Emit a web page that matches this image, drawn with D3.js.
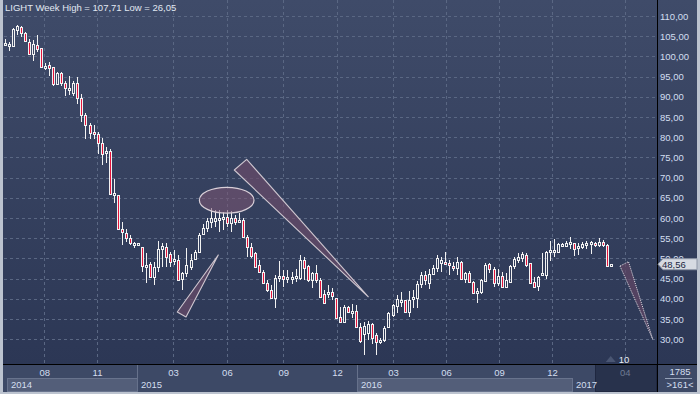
<!DOCTYPE html>
<html>
<head>
<meta charset="utf-8">
<script src="https://cdn.jsdelivr.net/npm/d3@7"></script>
<style>
  html, body { margin: 0; padding: 0; background: #bcc3cf; }
  svg { display: block; }
  text { font-family: "Liberation Sans", Arial, sans-serif; }
</style>
</head>
<body>
<div id="chart"></div>
<script>
// weekly candles, oldest first (index = week number in view)
const opens = [
  103.1, 102.7, 102.6, 106.5, 107.2, 105.7, 103.6, 100.5, 102.8, 102.0,
  97.5, 97.9, 97.3, 93.2, 95.8, 93.3, 91.9, 91.0, 93.3, 89.6,
  85.5, 83.0, 81.4, 80.8, 78.5, 76.0, 76.6, 65.6, 65.6, 57.4,
  56.2, 55.0, 53.6, 53.7, 52.7, 47.8, 48.6, 45.3, 47.8, 52.3,
  52.7, 51.1, 49.6, 49.6, 44.9, 46.5, 47.9, 49.8, 51.7, 56.0,
  57.5, 59.0, 59.3, 59.8, 59.8, 60.3, 58.8, 59.9, 59.2, 59.5,
  55.4, 52.9, 51.3, 48.4, 46.7, 43.8, 42.2, 40.3, 45.3, 45.7,
  45.0, 44.9, 45.2, 45.2, 49.6, 48.0, 44.7, 46.5, 44.7, 41.1,
  41.2, 41.7, 40.3, 35.6, 34.2, 38.0, 36.5, 37.0, 32.9, 31.4,
  31.6, 33.8, 31.1, 29.2, 29.7, 32.9, 36.0, 38.2, 39.5, 39.6,
  36.7, 40.0, 40.1, 43.6, 45.9, 44.0, 46.1, 47.7, 48.8, 49.1,
  48.9, 48.1, 47.6, 49.2, 44.8, 46.5, 44.2, 41.4, 41.6, 44.5,
  48.5, 47.3, 44.0, 45.6, 43.0, 44.2, 48.0, 49.5, 50.0, 50.8,
  48.8, 44.2, 43.2, 45.9, 46.0, 51.5, 51.5, 51.7, 53.5, 53.1,
  53.7, 53.7, 52.9, 52.9, 53.4, 53.6, 53.9, 53.3, 54.1, 53.3,
  48.3
];
const highs = [
  104.2, 103.6, 107.0, 107.71, 107.5, 106.0, 104.3, 104.1, 105.3, 102.2,
  98.4, 98.5, 97.5, 96.2, 96.1, 93.9, 95.1, 93.9, 95.0, 90.6,
  86.1, 83.6, 83.0, 81.2, 79.7, 77.6, 77.0, 69.7, 65.7, 58.9,
  57.4, 55.8, 54.1, 53.9, 52.9, 51.4, 49.2, 49.2, 54.4, 53.9,
  53.7, 51.7, 52.2, 50.8, 46.7, 52.5, 51.1, 52.2, 56.2, 58.5,
  59.9, 62.5, 62.0, 62.0, 61.6, 62.0, 61.7, 60.7, 61.2, 59.9,
  55.8, 53.7, 51.5, 49.6, 47.1, 44.6, 43.4, 45.9, 49.4, 47.1,
  47.1, 46.7, 47.5, 50.8, 50.4, 48.4, 46.7, 48.4, 45.1, 42.2,
  43.4, 42.6, 40.3, 38.0, 38.5, 38.3, 38.6, 38.4, 33.9, 34.3,
  34.5, 34.1, 31.6, 30.2, 33.3, 36.8, 38.7, 41.0, 41.8, 39.7,
  42.0, 42.2, 44.4, 46.6, 46.9, 47.5, 48.4, 50.8, 50.4, 51.7,
  49.6, 49.2, 50.3, 49.4, 46.7, 47.0, 44.5, 42.6, 44.8, 48.8,
  48.8, 47.9, 47.3, 46.7, 46.3, 48.4, 50.4, 51.4, 51.7, 51.3,
  48.9, 45.3, 45.6, 51.3, 51.9, 54.4, 54.7, 53.9, 53.8, 54.4,
  55.2, 53.9, 53.7, 54.1, 54.4, 54.4, 54.1, 55.0, 54.6, 53.6,
  48.6
];
const lows = [
  102.8, 101.4, 102.4, 105.3, 104.9, 103.6, 100.5, 98.9, 101.0, 97.1,
  96.6, 95.2, 92.7, 92.9, 92.7, 90.3, 90.4, 90.3, 88.1, 83.7,
  79.6, 79.6, 79.6, 75.8, 73.1, 73.7, 65.7, 63.6, 57.3, 53.3,
  54.1, 53.3, 52.5, 53.5, 46.7, 44.0, 45.3, 43.4, 46.7, 47.9,
  47.8, 47.9, 48.4, 44.7, 42.2, 45.3, 47.1, 49.6, 51.3, 55.8,
  56.6, 57.5, 57.8, 56.6, 57.0, 57.8, 56.6, 58.3, 59.1, 55.2,
  50.4, 50.0, 47.7, 46.3, 43.6, 41.6, 40.0, 37.6, 44.2, 43.0,
  43.9, 43.6, 44.2, 44.7, 44.7, 44.2, 42.6, 43.8, 40.3, 38.6,
  40.1, 39.7, 35.0, 33.9, 33.9, 36.4, 35.3, 32.9, 29.0, 26.05,
  29.8, 28.8, 26.1, 28.8, 29.4, 32.7, 35.6, 36.4, 38.0, 36.4,
  35.5, 37.6, 37.6, 42.6, 43.4, 42.4, 45.9, 46.7, 46.6, 48.4,
  45.9, 47.0, 45.9, 44.7, 43.8, 43.8, 41.2, 39.0, 41.2, 44.2,
  46.5, 42.8, 43.2, 42.6, 42.6, 44.0, 47.5, 48.9, 49.2, 47.9,
  43.8, 42.8, 42.0, 45.6, 44.8, 49.4, 50.3, 51.4, 53.3, 52.9,
  52.3, 50.6, 50.8, 52.3, 52.3, 51.1, 52.9, 52.9, 52.7, 47.9,
  47.8
];
const closes = [
  103.3, 103.1, 106.8, 107.5, 105.7, 103.8, 100.5, 103.1, 101.8, 97.5,
  97.6, 97.1, 93.2, 96.0, 93.3, 92.1, 92.3, 93.5, 89.6, 85.5,
  83.0, 81.1, 80.7, 78.5, 75.8, 76.7, 65.9, 66.1, 57.4, 56.6,
  55.0, 53.9, 53.8, 53.8, 48.0, 48.4, 45.3, 47.9, 52.3, 53.0,
  50.3, 49.2, 49.9, 44.7, 46.3, 48.4, 49.6, 51.7, 55.8, 57.5,
  59.3, 60.0, 59.9, 60.0, 60.3, 58.8, 59.9, 59.1, 59.6, 55.4,
  52.7, 50.7, 47.9, 46.7, 43.8, 42.2, 40.3, 45.2, 45.7, 44.9,
  45.5, 45.5, 45.7, 49.6, 47.7, 44.7, 46.3, 44.7, 40.5, 38.9,
  41.7, 40.8, 35.2, 34.2, 38.0, 36.7, 37.0, 33.1, 29.6, 33.3,
  33.7, 30.4, 29.2, 29.8, 32.7, 36.4, 38.5, 40.0, 39.8, 36.7,
  39.8, 40.5, 43.6, 45.9, 44.7, 46.1, 47.7, 50.0, 49.6, 48.5,
  48.3, 47.6, 49.2, 44.8, 46.3, 44.2, 41.4, 42.0, 44.7, 48.4,
  47.3, 44.0, 45.6, 43.0, 44.7, 48.0, 49.8, 50.3, 51.0, 48.4,
  44.0, 43.0, 45.3, 46.3, 51.7, 52.0, 52.1, 53.6, 53.6, 53.9,
  54.1, 52.3, 53.1, 53.6, 53.9, 54.0, 53.3, 54.1, 53.3, 48.1,
  48.56
];

// x axis: month ticks and year bands, placed by week number
const monthLabels = ["08", "11", "03", "06", "09", "12", "03", "06", "09", "12", "04"];
const monthWeeks = [9.8, 22.85, 41.65, 55.0, 68.95, 82.25, 96.1, 109.25, 122.35, 135.5, 153.5];
const yearLabels = ["2014", "2015", "2016", "2017"];
const yearStartWeeks = [0.6, 32.75, 87.2, 140.4];
const viewEndWeek = 146.1;

// price axis
const priceTicks = d3.range(30, 111, 5);
const lastPrice = 48.56;

// drawn annotations, in (week, price)
const ellipseNote = {week: 54.95, price: 64.4, weeks: 6.76, prices: 3.2};
const smallWedge = [[52.87, 50.84], [42.72, 36.73], [44.88, 35.5]];
const bigWedge = [[56.83, 71.88], [59.9, 74.5], [90.0, 40.5]];
const dottedWedge = [[152.3, 48.1], [154.4, 49.2], [160.4, 30.0]];
const eventMarks = [{week: 150, label: "10"}];

const W = 700, H = 394;
const plot = {left: 4, right: 657, top: 0, bottom: 364};

const locale = d3.formatLocale({decimal: ",", thousands: ".", grouping: [3], currency: ["", ""]});
const fmt = locale.format(".2f");

const svg = d3.select("#chart").append("svg")
  .attr("width", W)
  .attr("height", H);

const defs = svg.append("defs");
const grad = defs.append("linearGradient")
  .attr("id", "bg")
  .attr("x1", 0).attr("y1", 0).attr("x2", 0).attr("y2", 1);
grad.append("stop").attr("offset", "0%").attr("stop-color", "#3f4b69");
grad.append("stop").attr("offset", "100%").attr("stop-color", "#2c3755");

defs.append("clipPath").attr("id", "plotclip")
  .append("rect")
  .attr("x", plot.left).attr("y", plot.top)
  .attr("width", plot.right - plot.left).attr("height", plot.bottom - plot.top);

// frame + background
svg.append("rect").attr("width", W).attr("height", H).attr("fill", "#bcc3cf");
svg.append("rect")
  .attr("x", 3).attr("y", 0)
  .attr("width", 694).attr("height", plot.bottom)
  .attr("fill", "url(#bg)");

// scales
const x = d3.scaleLinear().domain([-0.17, 161.46]).range([plot.left, plot.right]);
const y = d3.scaleLinear().domain([30, 110]).range([339.2, 16]);

// grid
const grid = svg.append("g")
  .attr("stroke", "#5a6783")
  .attr("stroke-dasharray", "3,3")
  .attr("stroke-width", 1);

grid.selectAll(".hg")
  .data(priceTicks)
  .enter().append("line")
  .attr("x1", plot.left).attr("x2", plot.right)
  .attr("y1", d => Math.round(y(d)) + 0.5)
  .attr("y2", d => Math.round(y(d)) + 0.5);

grid.selectAll(".vg")
  .data(monthWeeks)
  .enter().append("line")
  .attr("y1", plot.top).attr("y2", plot.bottom)
  .attr("x1", d => Math.round(x(d)) + 0.5)
  .attr("x2", d => Math.round(x(d)) + 0.5);

// candles
const candles = opens.map((o, i) => ({i, o, h: highs[i], l: lows[i], c: closes[i]}));

const cg = svg.append("g").attr("clip-path", "url(#plotclip)");

const candle = cg.selectAll(".candle")
  .data(candles)
  .enter().append("g")
  .attr("class", "candle");

candle.each(function(d) {
  const g = d3.select(this);
  const cx = Math.round(x(d.i));
  let top = Math.round(y(Math.max(d.o, d.c)));
  let bot = Math.round(y(Math.min(d.o, d.c)));
  if (bot - top < 2) bot = top + 2;
  const hi = Math.round(y(d.h)), lo = Math.round(y(d.l));

  g.append("line")
    .attr("x1", cx + 0.5).attr("x2", cx + 0.5)
    .attr("y1", Math.min(hi, top)).attr("y2", top)
    .attr("stroke", "#f2f2f2");
  g.append("line")
    .attr("x1", cx + 0.5).attr("x2", cx + 0.5)
    .attr("y1", bot).attr("y2", Math.max(lo, bot))
    .attr("stroke", "#f2f2f2");
  g.append("rect")
    .attr("x", cx - 0.5).attr("y", top + 0.5)
    .attr("width", 2).attr("height", bot - top)
    .attr("fill", d.c < d.o ? "#e4143c" : "none")
    .attr("stroke", "#f2f2f2")
    .attr("stroke-width", 1);
});

// annotations
const notes = svg.append("g").attr("clip-path", "url(#plotclip)");

notes.append("ellipse")
  .attr("cx", x(ellipseNote.week))
  .attr("cy", y(ellipseNote.price))
  .attr("rx", x(ellipseNote.week + ellipseNote.weeks) - x(ellipseNote.week))
  .attr("ry", y(ellipseNote.price) - y(ellipseNote.price + ellipseNote.prices))
  .attr("fill", "rgba(125,85,115,0.55)")
  .attr("stroke", "#d9cfd8")
  .attr("stroke-width", 1.2);

const wedge = d3.line().x(d => x(d[0])).y(d => y(d[1]));

[smallWedge, bigWedge].forEach(pts => {
  notes.append("path")
    .attr("d", wedge(pts) + "Z")
    .attr("fill", "rgba(105,75,105,0.7)")
    .attr("stroke", "#cfc7d0")
    .attr("stroke-width", 1.1)
    .attr("stroke-linejoin", "round");
});

notes.append("path")
  .attr("d", wedge(dottedWedge) + "Z")
  .attr("fill", "rgba(95,70,100,0.75)")
  .attr("stroke", "#e8e4ea")
  .attr("stroke-width", 1)
  .attr("stroke-dasharray", "1,1");

// event markers
const ev = svg.append("g").selectAll("g")
  .data(eventMarks)
  .enter().append("g");
ev.append("path")
  .attr("d", d => {
    const cx = x(d.week);
    return `M${cx - 5},362 L${cx},356 L${cx + 5},362 Z`;
  })
  .attr("fill", "#4a5673");
ev.append("text")
  .attr("x", d => x(d.week) + 8)
  .attr("y", 359.5)
  .attr("dy", "0.35em")
  .attr("fill", "#e6ebf3")
  .style("font-size", "9.5px")
  .text(d => d.label);

// bottom axis band
const axisBand = svg.append("g");
axisBand.append("rect")
  .attr("x", 3).attr("y", plot.bottom)
  .attr("width", 694).attr("height", 28)
  .attr("fill", "#3d4966");

const yearEnds = yearStartWeeks.slice(1).concat([viewEndWeek]);
axisBand.selectAll(".yearbox")
  .data(yearLabels)
  .enter().append("rect")
  .attr("x", (d, i) => Math.round(x(yearStartWeeks[i])) + 0.5)
  .attr("y", 378.5)
  .attr("width", (d, i) => Math.round(x(yearEnds[i])) - Math.round(x(yearStartWeeks[i])))
  .attr("height", 13)
  .attr("fill", (d, i) => i % 2 === 0 ? "#535e79" : "none")
  .attr("stroke", (d, i) => i % 2 === 0 ? "#68738d" : "none");

axisBand.selectAll(".sep")
  .data(yearStartWeeks.slice(1, 3))
  .enter().append("line")
  .attr("x1", d => Math.round(x(d)) + 0.5).attr("x2", d => Math.round(x(d)) + 0.5)
  .attr("y1", plot.bottom).attr("y2", 392)
  .attr("stroke", "#66718b");

// future area
axisBand.append("rect")
  .attr("x", Math.round(x(viewEndWeek)) + 0.5).attr("y", plot.bottom + 0.5)
  .attr("width", plot.right - Math.round(x(viewEndWeek)) - 1).attr("height", 27)
  .attr("fill", "#28324c")
  .attr("stroke", "#1f2740");

axisBand.selectAll(".year")
  .data(yearLabels)
  .enter().append("text")
  .attr("x", (d, i) => Math.round(x(yearStartWeeks[i])) + 4)
  .attr("y", 385)
  .attr("dy", "0.35em")
  .attr("fill", "#d3def0")
  .style("font-size", "9.5px")
  .text(d => d);

const monthAxis = d3.axisBottom(x)
  .tickValues(monthWeeks)
  .tickFormat((d, i) => monthLabels[i])
  .tickSize(0);

svg.append("g")
  .attr("transform", `translate(0,${plot.bottom})`)
  .call(monthAxis)
  .call(g => g.select(".domain").remove())
  .call(g => g.selectAll("text")
    .attr("y", 9)
    .attr("dy", "0.35em")
    .style("font-size", "9.5px")
    .style("font-family", "Liberation Sans, Arial, sans-serif")
    .attr("fill", d => d > viewEndWeek ? "#6e7a93" : "#d3def0"));

// right price axis
const priceAxis = d3.axisRight(y)
  .tickValues(priceTicks)
  .tickFormat(fmt)
  .tickSize(0)
  .tickPadding(3);

svg.append("g")
  .attr("transform", `translate(${plot.right},0)`)
  .call(priceAxis)
  .call(g => g.select(".domain").remove())
  .call(g => g.selectAll("text")
    .style("font-size", "9.5px")
    .style("font-family", "Liberation Sans, Arial, sans-serif")
    .attr("fill", "#d3def0"));

// frame lines
svg.append("line")
  .attr("x1", 3).attr("x2", 697)
  .attr("y1", plot.bottom + 0.5).attr("y2", plot.bottom + 0.5)
  .attr("stroke", "#000");
svg.append("line")
  .attr("x1", plot.right + 0.5).attr("x2", plot.right + 0.5)
  .attr("y1", 0).attr("y2", 392)
  .attr("stroke", "#000");

// last price marker
const ly = y(lastPrice);
svg.append("path")
  .attr("d", `M${plot.right + 1},${ly} L${plot.right + 6},${ly - 5.5} L697,${ly - 5.5} L697,${ly + 5.5} L${plot.right + 6},${ly + 5.5} Z`)
  .attr("fill", "#d6dae2")
  .attr("stroke", "#8e97a8");
svg.append("text")
  .attr("x", plot.right + 5)
  .attr("y", ly)
  .attr("dy", "0.35em")
  .attr("fill", "#1b2640")
  .style("font-size", "9.5px")
  .text(fmt(lastPrice));

// bottom right counter box
svg.append("text")
  .attr("x", 680).attr("y", 372).attr("dy", "0.35em")
  .attr("text-anchor", "middle")
  .attr("fill", "#d3def0")
  .style("font-size", "9.5px")
  .text("1785");
svg.append("line")
  .attr("x1", 665).attr("x2", 692)
  .attr("y1", 378.5).attr("y2", 378.5)
  .attr("stroke", "#95a1b8");
svg.append("text")
  .attr("x", 680).attr("y", 385).attr("dy", "0.35em")
  .attr("text-anchor", "middle")
  .attr("fill", "#d3def0")
  .style("font-size", "9.5px")
  .text(">161<");

// title
svg.append("text")
  .attr("x", 5).attr("y", 8)
  .attr("dy", "0.35em")
  .attr("fill", "#e1e8f2")
  .style("font-size", "9.5px")
  .text("LIGHT Week High = " + fmt(d3.max(highs)) + " Low = " + fmt(d3.min(lows)));
</script>
</body>
</html>
